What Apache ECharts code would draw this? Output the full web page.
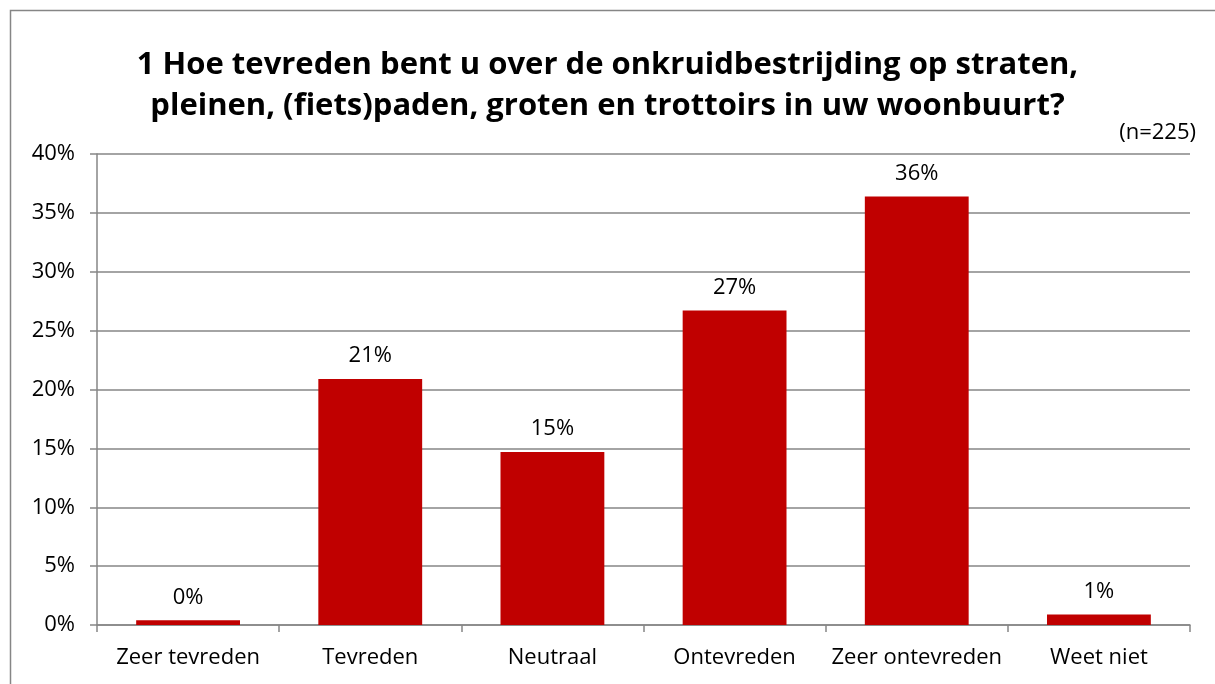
<!DOCTYPE html>
<html>
<head>
<meta charset="utf-8">
<script src="https://cdn.jsdelivr.net/npm/echarts@6/dist/echarts.min.js"></script>
<style>
  html, body { margin: 0; padding: 0; background: #fff; }
  #chart { width: 1215px; height: 684px; }
</style>
</head>
<body>
<div id="chart"></div>
<script>
// categories and answers (share of respondents, %)
const categories = ["Zeer tevreden", "Tevreden", "Neutraal", "Ontevreden", "Zeer ontevreden", "Weet niet"];
const values = [0.4, 20.9, 14.7, 26.7, 36.4, 0.9];
const titleLines = [
  "1 Hoe tevreden bent u over de onkruidbestrijding op straten,",
  "pleinen, (fiets)paden, groten en trottoirs in uw woonbuurt?"
];
const sampleNote = "(n=225)";

const fontFam = "'Open Sans', sans-serif";
const chart = echarts.init(document.getElementById("chart"));

chart.setOption({
  animation: false,
  backgroundColor: "#fff",
  textStyle: { fontFamily: fontFam },
  title: [
    {
      text: titleLines.join("\n"),
      left: "center",
      top: 40,
      textStyle: { fontSize: 31, fontWeight: "bold", color: "#000", lineHeight: 41, fontFamily: fontFam }
    },
    {
      text: sampleNote,
      right: 14,
      top: 117,
      textStyle: { fontSize: 22, fontWeight: "normal", color: "#000", fontFamily: fontFam }
    }
  ],
  graphic: [
    {
      type: "rect",
      shape: { x: 10.5, y: 10.5, width: 1300, height: 800 },
      style: { fill: "none", stroke: "#868686", lineWidth: 1.5 },
      silent: true
    }
  ],
  grid: { left: 97, right: 25, top: 154, bottom: 59 },
  xAxis: {
    type: "category",
    data: categories,
    axisLine: { lineStyle: { color: "#868686", width: 1.5 } },
    axisTick: { show: true, length: 7, lineStyle: { color: "#868686", width: 1.5 } },
    axisLabel: { color: "#000", fontSize: 22, margin: 22, interval: 0 }
  },
  yAxis: {
    type: "value",
    min: 0,
    max: 40,
    interval: 5,
    axisLine: { show: true, lineStyle: { color: "#868686", width: 1.5 } },
    axisTick: { show: true, length: 7, lineStyle: { color: "#868686", width: 1.5 } },
    splitLine: { lineStyle: { color: "#868686", width: 1.5 } },
    axisLabel: { color: "#000", fontSize: 22, margin: 22, formatter: "{value}%" }
  },
  series: [
    {
      type: "bar",
      data: values,
      barWidth: "57%",
      itemStyle: { color: "#C00000" },
      label: {
        show: true,
        position: "top",
        distance: 12,
        color: "#000",
        fontSize: 22,
        formatter: p => Math.round(p.value) + "%"
      }
    }
  ]
});
</script>
</body>
</html>
